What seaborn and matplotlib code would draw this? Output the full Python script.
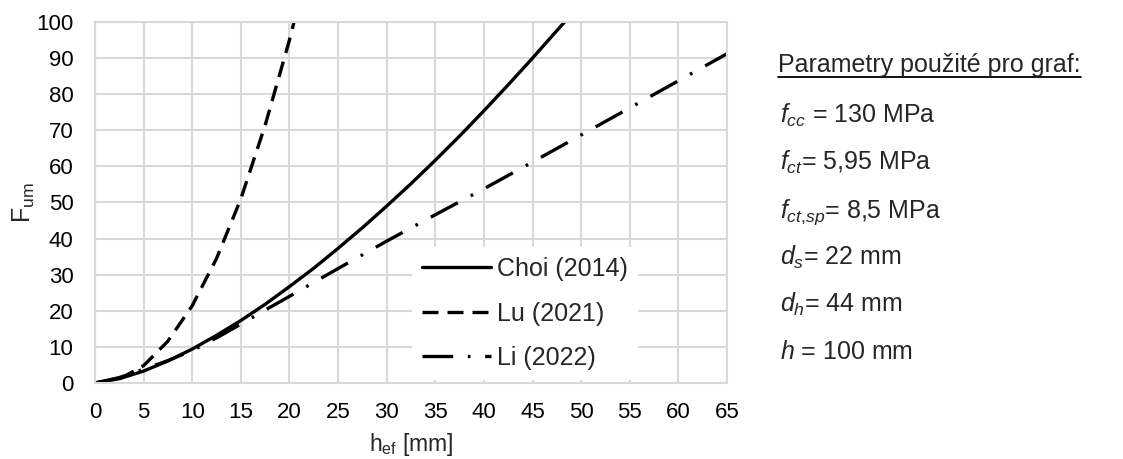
import numpy as np
import pandas as pd
import matplotlib
matplotlib.use("Agg")
import matplotlib.pyplot as plt
import seaborn as sns
from matplotlib.lines import Line2D

# values
choi_x = [0, 2.5, 5, 7.5, 10, 12.5, 15, 17.5, 20, 22.5, 25, 27.5, 30, 32.5, 35, 37.5, 40, 42.5, 45, 47.5, 48.5]
choi_y = [0, 1.2, 3.3, 6.1, 9.4, 13.2, 17.3, 21.8, 26.7, 31.8, 37.3, 43.0, 49.0, 55.2, 61.7, 68.4, 75.4, 82.6, 90.0, 97.6, 100.6]

lu_x = [0, 2.5, 5, 7.5, 10, 12.5, 15, 17.5, 20, 21]
lu_y = [0, 1.1, 4.8, 11.6, 21.4, 34.5, 51.0, 71.4, 95.0, 105.6]

li_x = [0, 2.5, 5, 7.5, 10, 12.5, 15, 17.5, 20, 25, 30, 35, 40, 45, 50, 55, 60, 65]
li_y = [0, 1.5, 3.8, 6.2, 9.0, 12.5, 16.3, 20.2, 24.0, 31.7, 39.3, 46.6, 53.8, 61.2, 68.7, 76.2, 83.7, 91.2]

labels = ["Choi (2014)", "Lu (2021)", "Li (2022)"]
params = [r"$f_{cc}$ = 130 MPa", r"$f_{ct}$= 5,95 MPa", r"$f_{ct{,}sp}$= 8,5 MPa",
          r"$d_{s}$= 22 mm", r"$d_{h}$= 44 mm", r"$h$ = 100 mm"]
params_title = "Parametry použité pro graf:"

sns.set_theme(style="whitegrid")
plt.rcParams["font.family"] = ["Liberation Sans", "DejaVu Sans"]
plt.rcParams["mathtext.fontset"] = "custom"
plt.rcParams["mathtext.rm"] = "Liberation Sans"
plt.rcParams["mathtext.it"] = "Liberation Sans:italic"
plt.rcParams["mathtext.bf"] = "Liberation Sans:bold"

fig = plt.figure(figsize=(11.23, 4.59), dpi=100)
ax = fig.add_axes([0.0846, 0.1656, 0.5628, 0.7866])

lw = 2.4
styles = ["-", (0, (4.8, 2.7)), (0, (9.2, 4.4, 0.8, 4.4))]
data = [(choi_x, choi_y), (lu_x, lu_y), (li_x, li_y)]
for (xs, ys), lab, ls in zip(data, labels, styles):
    df = pd.DataFrame({"x": xs, "y": ys})
    sns.lineplot(data=df, x="x", y="y", ax=ax, color="black", linewidth=lw,
                 linestyle=ls, label=lab, legend=False)

ax.set_xlim(0, 65)
ax.set_ylim(0, 100)
ax.set_xticks(np.arange(0, 66, 5))
ax.set_yticks(np.arange(0, 101, 10))
ax.grid(True, color="#d9d9d9", linewidth=1.5)
for s in ax.spines.values():
    s.set_color("#d9d9d9")
    s.set_linewidth(1.5)
ax.tick_params(axis="x", length=0, pad=13.5, labelsize=16, colors="black")
ax.tick_params(axis="y", length=0, pad=15.5, labelsize=16, colors="black")
ax.set_xlabel(r"h$_\mathrm{ef}$ [mm]", fontsize=16.5)
ax.set_ylabel(r"F$_\mathrm{um}$", fontsize=18)
ax.xaxis.set_label_coords(0.5, -0.132)
ax.yaxis.set_label_coords(-0.092, 0.5)

handles = [Line2D([], [], color="black", linewidth=lw, linestyle=ls) for ls in styles]
leg = ax.legend(handles, labels, loc="lower left", bbox_to_anchor=(0.5016, 0.008),
                fontsize=18, frameon=True, framealpha=1, edgecolor="none",
                fancybox=False, handlelength=2.75, handletextpad=0.25,
                labelspacing=0.82, borderaxespad=0, borderpad=0.4)

# parameter panel
H = 459
t = fig.text(778 / 1123, 1 - 72 / H, params_title, fontsize=18, va="baseline", ha="left")
for i, p in enumerate(params):
    fig.text(780 / 1123, 1 - (123 + 47.2 * i) / H, p, fontsize=18, va="baseline", ha="left")

fig.canvas.draw()
bb = t.get_window_extent().transformed(fig.transFigure.inverted())
uy = 1 - 77 / H
fig.add_artist(Line2D([bb.x0, bb.x1], [uy, uy], color="black", linewidth=1.3,
                      transform=fig.transFigure))

fig.savefig("out.png", dpi=100)
